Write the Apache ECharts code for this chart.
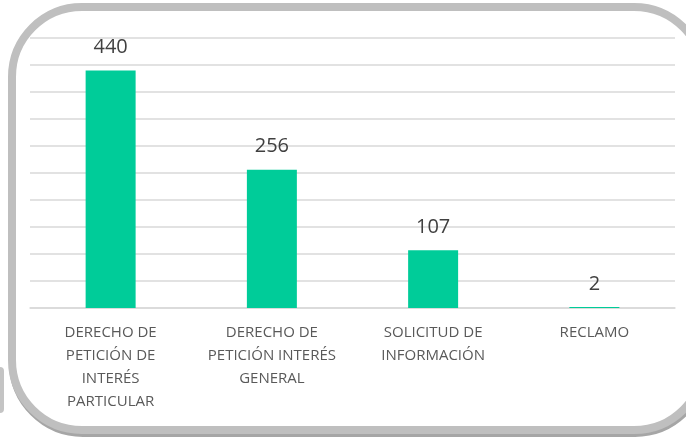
<!DOCTYPE html>
<html>
<head>
<meta charset="utf-8">
<script src="https://cdn.jsdelivr.net/npm/echarts@6/dist/echarts.min.js"></script>
<style>
  html, body { margin: 0; padding: 0; background: #fff; }
  #chart { width: 686px; height: 442px; }
</style>
</head>
<body>
<div id="chart"></div>
<script>
const categories = [
  "DERECHO DE\nPETICIÓN DE\nINTERÉS\nPARTICULAR",
  "DERECHO DE\nPETICIÓN INTERÉS\nGENERAL",
  "SOLICITUD DE\nINFORMACIÓN",
  "RECLAMO"
];
const values = [440, 256, 107, 2];

const chart = echarts.init(document.getElementById("chart"));

chart.setOption({
  animation: false,
  grid: { left: 30, right: 11, top: 38, bottom: 134 },
  graphic: [
    {
      type: "rect",
      z: -1,
      shape: { x: -20, y: 367, width: 24, height: 46, r: 4 },
      style: { fill: "#c4c4c4" }
    },
    {
      type: "rect",
      z: 0,
      shape: { x: 13, y: 10, width: 692, height: 423, r: 70 },
      style: { fill: "none", stroke: "#a6a6a6", lineWidth: 8 }
    },
    {
      type: "rect",
      z: 1,
      shape: { x: 12, y: 7, width: 692, height: 423, r: 70 },
      style: { fill: "#fff", stroke: "#bfbfbf", lineWidth: 8 }
    }
  ],
  xAxis: {
    type: "category",
    data: categories,
    axisLine: { lineStyle: { color: "#d9d9d9", width: 1.5 } },
    axisTick: { show: false },
    axisLabel: {
      interval: 0,
      color: "#595959",
      fontFamily: "Open Sans",
      fontSize: 15,
      lineHeight: 23,
      margin: 13
    },
    z: 5
  },
  yAxis: {
    type: "value",
    min: 0,
    max: 500,
    interval: 50,
    axisLabel: { show: false },
    axisLine: { show: false },
    axisTick: { show: false },
    splitLine: { lineStyle: { color: "#d9d9d9", width: 1.5 } },
    z: 5
  },
  series: [
    {
      type: "bar",
      data: values,
      barWidth: "31%",
      z: 6,
      itemStyle: { color: "#00cc99" },
      label: {
        show: true,
        position: "top",
        distance: 13,
        color: "#404040",
        fontFamily: "Open Sans",
        fontSize: 20
      }
    }
  ]
});
</script>
</body>
</html>
